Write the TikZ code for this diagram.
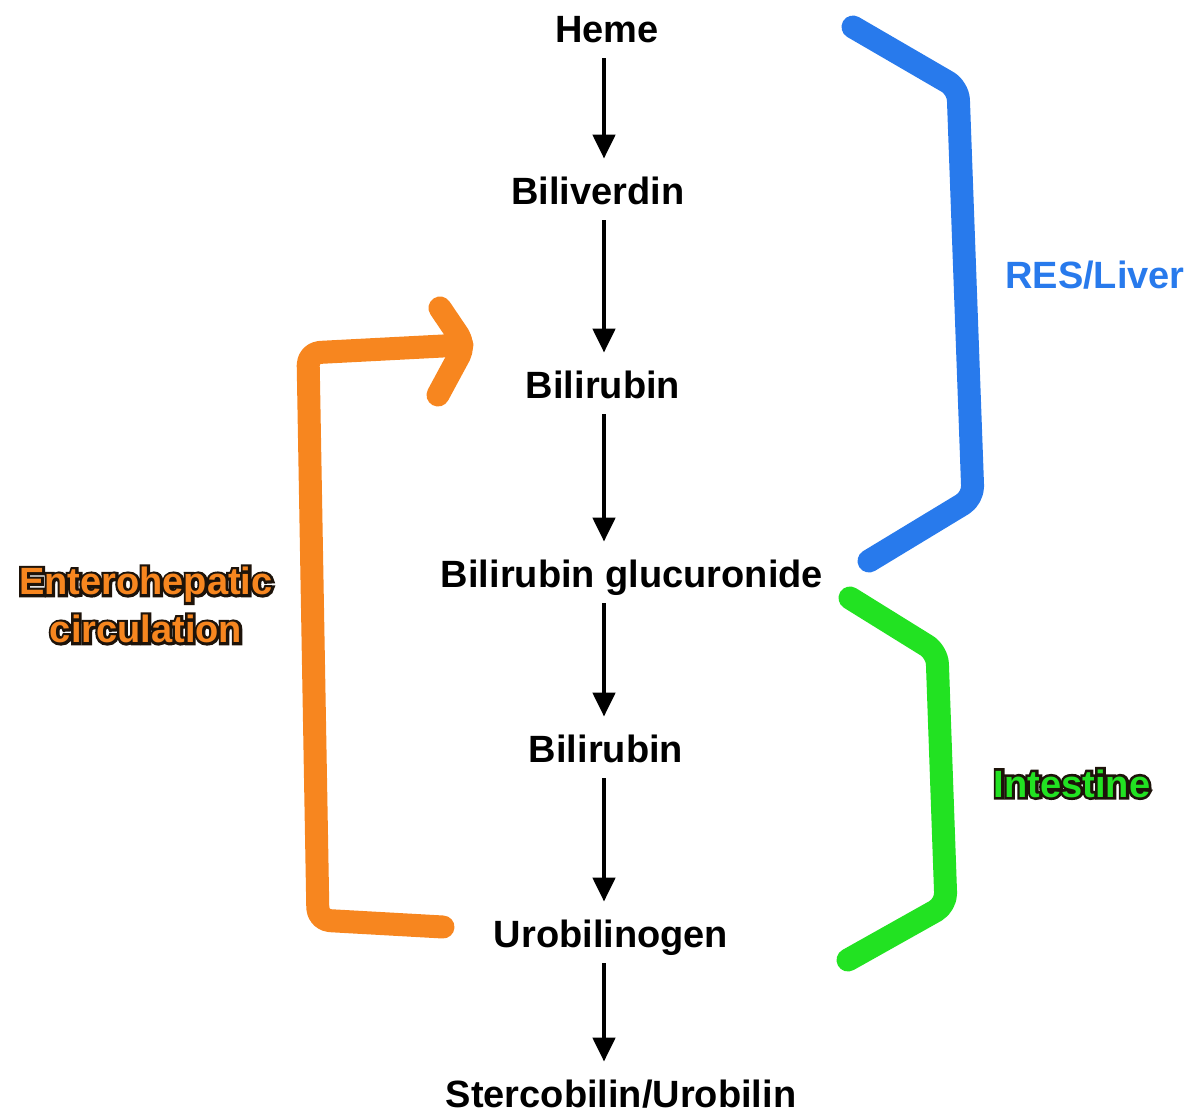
\documentclass[tikz,border=0pt]{standalone}
\usepackage{fontspec}
\setmainfont{Liberation Sans}
\usetikzlibrary{arrows.meta}
\definecolor{resblue}{RGB}{40,122,236}
\definecolor{gutgreen}{RGB}{34,226,34}
\definecolor{loporange}{RGB}{247,134,31}

\begin{document}
\begin{tikzpicture}[
  x=0.5pt, y=-0.5pt,
  font=\fontsize{19}{24}\selectfont\bfseries,
  compound/.style={anchor=base, text height=14.5pt, text depth=0pt, inner ysep=8pt, inner xsep=2pt},
  region/.style={line width=11.5pt, line cap=round, line join=round, rounded corners=6pt},
  tag/.style={anchor=base, align=center},
  glow/.style={text=black!85!brown, font=\fontsize{19}{24}\selectfont\bfseries\addfontfeatures{FakeBold=14}},
  >={Triangle[width=11pt,length=12pt]},
]
  \useasboundingbox (0,0) rectangle (1201,1120);
  \coordinate (axis) at (604,0);

  \node[compound] (heme) at (607,42) {Heme};
  \node[compound] (biliverdin) at (598,204) {Biliverdin};
  \node[compound] (bilirubin) at (603,398) {Bilirubin};
  \node[compound] (glucuronide) at (632,587) {Bilirubin glucuronide};
  \node[compound] (bilirubinb) at (606,762) {Bilirubin};
  \node[compound] (urobilinogen) at (611,947) {Urobilinogen};
  \node[compound] (stercobilin) at (621,1107) {Stercobilin/Urobilin};
  \foreach \a/\b in {heme/biliverdin,biliverdin/bilirubin,bilirubin/glucuronide,glucuronide/bilirubinb,bilirubinb/urobilinogen,urobilinogen/stercobilin}
    \draw[->, line width=2.3pt] (\a.south -| axis) -- (\b.north -| axis);

  % brackets
  \draw[region, resblue] (853,27) -- (958,88) -- (973,498) -- (869,561);
  \draw[region, gutgreen] (850,598) -- (937,652) -- (946,905) -- (848,960);
  \draw[region, loporange] (443,927) -- (318,920) -- (308,353) -- (462,345);
  \draw[region, loporange] (440,308) -- (465,345) -- (438,395);

  \node[tag, text=resblue] (resliver) at (1095,288) {RES/Liver};
  % dark rim behind the two labels
  \node[tag, glow] (intestinerim) at (1072,797) {Intestine};
  \node[tag, text=gutgreen] (intestine) at (1072,797) {Intestine};
  \node[align=center, glow] (enterohepaticrim) at (146,605) {Enterohepatic\\circulation};
  \node[align=center, text=loporange] (enterohepatic) at (146,605) {Enterohepatic\\circulation};
\end{tikzpicture}
\end{document}
